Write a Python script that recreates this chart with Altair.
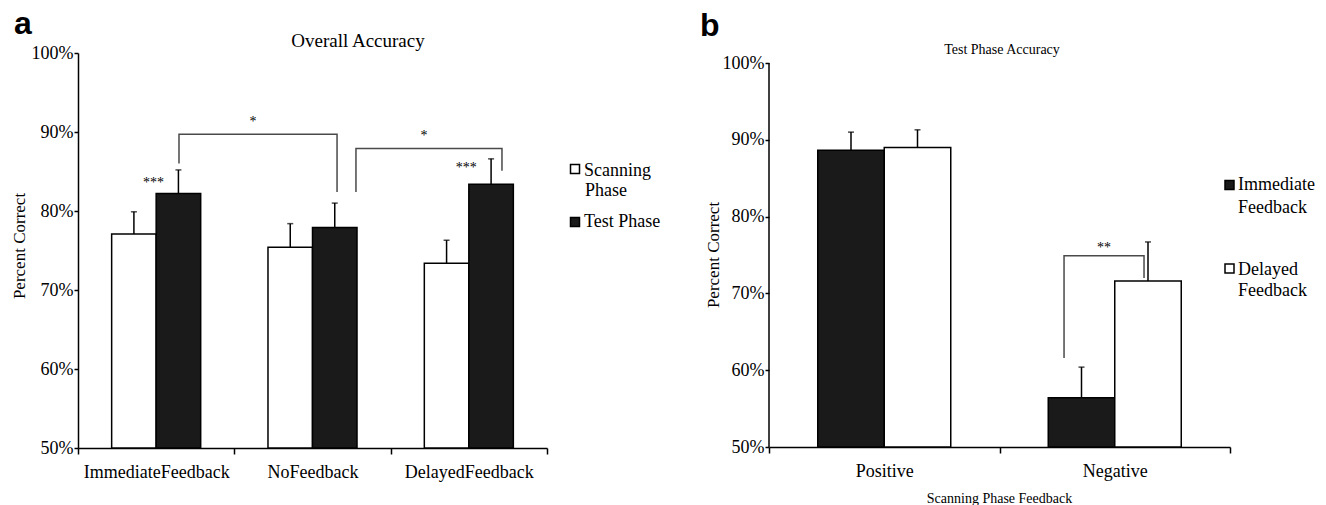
import altair as alt
import pandas as pd

SERIF = "Liberation Serif"
SANS = "Liberation Sans"
DARK = "#1a1a1a"

# ---------------- Panel a data ----------------
a_groups = ["ImmediateFeedback", "NoFeedback", "DelayedFeedback"]
a_phases = ["Scanning Phase", "Test Phase"]
a_scanning = [0.771, 0.754, 0.734]
a_scanning_se = [0.028, 0.030, 0.029]
a_test = [0.822, 0.779, 0.834]
a_test_se = [0.030, 0.031, 0.032]

# significance brackets (x in category units from the axis origin)
a_bracket_id = [1, 1, 1, 1, 2, 2, 2, 2]
a_bracket_x = [0.646, 0.646, 1.657, 1.657, 1.778, 1.778, 2.712, 2.712]
a_bracket_y = [0.860, 0.897, 0.897, 0.824, 0.824, 0.879, 0.879, 0.851]
a_stars = ["*", "*", "***", "***"]
a_stars_x = [1.119, 2.213, 0.483, 2.483]
a_stars_y = [0.913, 0.895, 0.836, 0.855]

# ---------------- Panel b data ----------------
b_groups = ["Positive", "Negative"]
b_conditions = ["Immediate Feedback", "Delayed Feedback"]
b_immediate = [0.8865, 0.564]
b_immediate_se = [0.0235, 0.040]
b_delayed = [0.890, 0.716]
b_delayed_se = [0.023, 0.051]

b_bracket_id = [1, 1, 1, 1]
b_bracket_x = [1.280, 1.280, 1.627, 1.627]
b_bracket_y = [0.616, 0.749, 0.749, 0.720]
b_stars = ["**"]
b_stars_x = [1.453]
b_stars_y = [0.759]

y_ticks = [0.5, 0.6, 0.7, 0.8, 0.9, 1.0]

# ---------------- tables ----------------
df_a = pd.DataFrame({
    "group": a_groups * 2,
    "phase": [a_phases[0]] * 3 + [a_phases[1]] * 3,
    "value": a_scanning + a_test,
    "se": a_scanning_se + a_test_se,
})
df_a["top"] = df_a["value"] + df_a["se"]

df_b = pd.DataFrame({
    "group": b_groups * 2,
    "cond": [b_conditions[0]] * 2 + [b_conditions[1]] * 2,
    "value": b_immediate + b_delayed,
    "se": b_immediate_se + b_delayed_se,
})
df_b["top"] = df_b["value"] + df_b["se"]

br_a = pd.DataFrame({"bid": a_bracket_id, "bx": a_bracket_x, "by": a_bracket_y,
                     "ord": list(range(len(a_bracket_x)))})
st_a = pd.DataFrame({"star": a_stars, "sx": a_stars_x, "sy": a_stars_y})
br_b = pd.DataFrame({"bid": b_bracket_id, "bx": b_bracket_x, "by": b_bracket_y,
                     "ord": list(range(len(b_bracket_x)))})
st_b = pd.DataFrame({"star": b_stars, "sx": b_stars_x, "sy": b_stars_y})

# ---------------- sizes ----------------
A_W, A_H = 469, 395
B_W, B_H = 461, 394
B_TOP = 0.5 + 0.5 * B_H / 384.0   # 100% sits 10 px below panel a's 100%


def x_axis():
    return alt.Axis(title=None, labelAngle=0, labelFont=SERIF, labelFontSize=18,
                    labelColor="black", tickBand="extent", tickSize=6,
                    tickColor="black", tickWidth=1.5, domainColor="black",
                    domainWidth=1.5, labelPadding=9, grid=False)


def y_axis(domain_line=True):
    return alt.Axis(values=y_ticks, format=".0%", title=None, labelFont=SERIF,
                    labelFontSize=18, labelColor="black", tickSize=4,
                    tickColor="black", tickWidth=1.5, domain=domain_line,
                    domainColor="black", domainWidth=1.5, labelPadding=1,
                    grid=False)


def text_chart(label, x, y, size, font=SERIF, weight="normal", align="center",
               baseline="alphabetic", angle=0):
    return alt.Chart(pd.DataFrame({"label": [label]})).mark_text(
        font=font, fontSize=size, fontWeight=weight, align=align,
        baseline=baseline, angle=angle, color="black", fill="black"
    ).encode(text="label:N", x=alt.value(x), y=alt.value(y))


def square(x, y, fill):
    return alt.Chart(pd.DataFrame({"k": [1]})).mark_point(
        shape="square", filled=True, size=81, fill=fill, stroke="black",
        strokeWidth=1.5, opacity=1
    ).encode(x=alt.value(x), y=alt.value(y))


# ================= Panel a =================
ya_scale = alt.Scale(domain=[0.5, 1.0], zero=False, nice=False)


def ya(field):
    return alt.Y(field, type="quantitative", scale=ya_scale, axis=y_axis())


xa = alt.X("group:N", sort=a_groups, scale=alt.Scale(paddingInner=0, paddingOuter=0),
           axis=x_axis())
xa_n = alt.X("group:N", sort=a_groups, scale=alt.Scale(paddingInner=0, paddingOuter=0),
             axis=None)
xoa = alt.XOffset("phase:N", sort=a_phases,
                  scale=alt.Scale(domain=a_phases, paddingInner=0, paddingOuter=0.756))

base_a = alt.Chart(df_a)
bars_a = base_a.mark_bar(stroke="black", strokeWidth=1.5).encode(
    x=xa, xOffset=xoa, y=ya("value"), y2=alt.datum(0.5),
    fill=alt.Fill("phase:N", sort=a_phases,
                  scale=alt.Scale(domain=a_phases, range=["white", DARK]),
                  legend=None),
)
err_a = base_a.mark_rule(color="black", strokeWidth=1.5).encode(
    x=xa_n, xOffset=xoa, y=ya("value"), y2="top:Q")
cap_a = base_a.mark_tick(color="black", thickness=1.5, size=6).encode(
    x=xa_n, xOffset=xoa, y=ya("top"))

qa = alt.Scale(domain=[0, 3], zero=False, nice=False)
brk_a = alt.Chart(br_a).mark_line(color="#4a4a4a", strokeWidth=1.5).encode(
    x=alt.X("bx:Q", scale=qa, axis=None), y=ya("by"), detail="bid:N", order="ord:Q")
stars_a = alt.Chart(st_a).mark_text(font=SERIF, fontSize=14, baseline="middle",
                                    color="black", fill="black").encode(
    x=alt.X("sx:Q", scale=qa, axis=None), y=ya("sy"), text="star:N")

panel_a = alt.layer(
    bars_a, err_a, cap_a, brk_a, stars_a,
    text_chart("a", -64, -19, 32, font=SANS, weight="bold", align="left"),
    text_chart("Overall Accuracy", 280, -12, 19, baseline="middle"),
    text_chart("Percent Correct", -58, 193, 17, baseline="middle", angle=270),
    square(497, 116, "white"),
    text_chart("Scanning", 506, 123, 18, align="left"),
    text_chart("Phase", 507, 143, 18, align="left"),
    square(497, 169, DARK),
    text_chart("Test Phase", 506, 174, 18, align="left"),
).resolve_scale(x="independent").properties(width=A_W, height=A_H)

# ================= Panel b =================
yb_scale = alt.Scale(domain=[0.5, B_TOP], zero=False, nice=False)


def yb(field):
    return alt.Y(field, type="quantitative", scale=yb_scale, axis=y_axis(False))


xb = alt.X("group:N", sort=b_groups, scale=alt.Scale(paddingInner=0, paddingOuter=0),
           axis=x_axis())
xb_n = alt.X("group:N", sort=b_groups, scale=alt.Scale(paddingInner=0, paddingOuter=0),
             axis=None)
xob = alt.XOffset("cond:N", sort=b_conditions,
                  scale=alt.Scale(domain=b_conditions, paddingInner=0, paddingOuter=0.733))

base_b = alt.Chart(df_b)
bars_b = base_b.mark_bar(stroke="black", strokeWidth=1.5).encode(
    x=xb, xOffset=xob, y=yb("value"), y2=alt.datum(0.5),
    fill=alt.Fill("cond:N", sort=b_conditions,
                  scale=alt.Scale(domain=b_conditions, range=[DARK, "white"]),
                  legend=None),
)
err_b = base_b.mark_rule(color="black", strokeWidth=1.5).encode(
    x=xb_n, xOffset=xob, y=yb("value"), y2="top:Q")
cap_b = base_b.mark_tick(color="black", thickness=1.5, size=6).encode(
    x=xb_n, xOffset=xob, y=yb("top"))
yaxis_line_b = alt.Chart(pd.DataFrame({"k": [1]})).mark_rule(
    color="black", strokeWidth=1.5).encode(
    x=alt.value(0), y=alt.datum(0.5), y2=alt.datum(1.0))

qb = alt.Scale(domain=[0, 2], zero=False, nice=False)
brk_b = alt.Chart(br_b).mark_line(color="#4a4a4a", strokeWidth=1.5).encode(
    x=alt.X("bx:Q", scale=qb, axis=None), y=yb("by"), detail="bid:N", order="ord:Q")
stars_b = alt.Chart(st_b).mark_text(font=SERIF, fontSize=14, baseline="middle",
                                    color="black", fill="black").encode(
    x=alt.X("sx:Q", scale=qb, axis=None), y=yb("sy"), text="star:N")

panel_b = alt.layer(
    bars_b, err_b, cap_b, yaxis_line_b, brk_b, stars_b,
    text_chart("b", -69, -17, 32, font=SANS, weight="bold", align="left"),
    text_chart("Test Phase Accuracy", 233, -3, 14, baseline="middle"),
    text_chart("Percent Correct", -55, 202, 17, baseline="middle", angle=270),
    text_chart("Scanning Phase Feedback", B_W / 2, B_H + 56, 14),
    square(460.5, 132, DARK),
    text_chart("Immediate", 469, 137, 18, align="left"),
    text_chart("Feedback", 469, 160, 18, align="left"),
    square(460.5, 215.5, "white"),
    text_chart("Delayed", 469, 222, 18, align="left"),
    text_chart("Feedback", 469, 243, 18, align="left"),
).resolve_scale(x="independent").properties(width=B_W, height=B_H)

chart = alt.hconcat(panel_a, panel_b, spacing=222, bounds="flush").resolve_scale(
    xOffset="independent", fill="independent"
).configure_view(
    stroke=None
).properties(
    padding={"left": 3, "top": 0, "right": 0, "bottom": 0},
    background="white",
)

chart.save("out.html", embed_options={"renderer": "svg", "actions": False})
